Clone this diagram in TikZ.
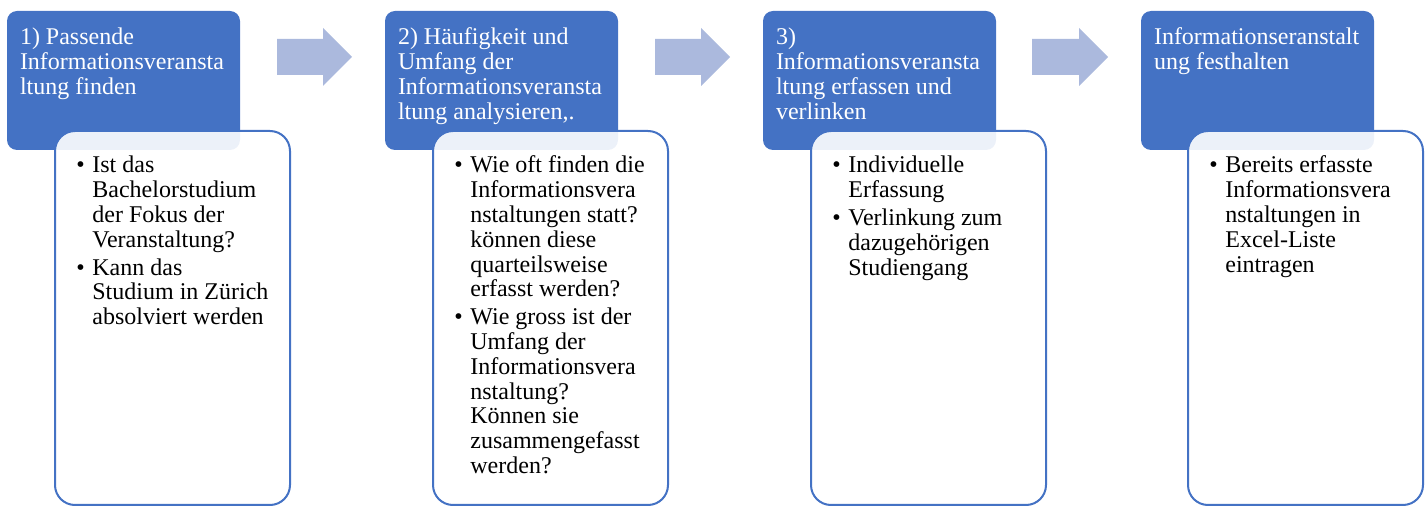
\documentclass[tikz,border=0pt]{standalone}
\usepackage{fontspec}
\setmainfont{Liberation Serif}
\usepackage{tikz}
\usetikzlibrary{positioning}
\definecolor{stepblue}{RGB}{68,114,196}
\definecolor{arrowblue}{RGB}{171,185,221}
\newcommand{\itembul}{\makebox[8pt][l]{\textbullet}}
\newcommand{\itemind}{\hspace*{8pt}}
\tikzset{
  stepbox/.style={ fill=stepblue, rounded corners=5pt, minimum width=116.5pt, minimum height=69.5pt, inner sep=0pt }
}
\tikzset{
  notebox/.style={ draw=stepblue, line width=1pt, fill=white, fill opacity=0.9, rounded corners=10pt, minimum width=117.5pt, minimum height=187pt, inner sep=0pt }
}
\tikzset{
  steptext/.style={ anchor=north west, inner sep=0pt, align=left, text=white, font=\fontsize{12pt}{12.4pt}\selectfont }
}
\tikzset{
  notetext/.style={ anchor=north west, inner sep=0pt, align=left, font=\fontsize{12pt}{12.4pt}\selectfont }
}
\tikzset{
  blockarrow/.style={ fill=arrowblue }
}

\begin{document}
\begin{tikzpicture}[x=0.5pt, y=-0.5pt]
      \useasboundingbox (0,0) rectangle (1426,513);

      % step 1
      \node[stepbox] (s1) at (123.5, 80.5) {};
      \node[steptext, below right=8.2pt and 6.5pt of s1.north west] (t1) {\strut 1) Passende\\Informationsveransta\\ltung finden};
      \node[notebox] (n1) at (172.5, 318) {};
      \node[notetext, below right=12.6pt and 11pt of n1.north west] (l1) {\strut\itembul Ist das\\\itemind Bachelorstudium\\\itemind der Fokus der\\\itemind Veranstaltung?\\[1.5pt]\itembul Kann das\\\itemind Studium in Zürich\\\itemind absolviert werden};

      \fill[blockarrow] (277,39) -- (323,39) -- (323,28) -- (352,57) -- (323,86) -- (323,75) -- (277,75) -- cycle;

      % step 2
      \node[stepbox] (s2) at (501.5, 80.5) {};
      \node[steptext, below right=8.2pt and 6.5pt of s2.north west] (t2) {\strut 2) Häufigkeit und\\Umfang der\\Informationsveransta\\ltung analysieren,.};
      \node[notebox] (n2) at (550.5, 318) {};
      \node[notetext, below right=12.6pt and 11pt of n2.north west] (l2) {\strut\itembul Wie oft finden die\\\itemind Informationsvera\\\itemind nstaltungen statt?\\\itemind können diese\\\itemind quarteilsweise\\\itemind erfasst werden?\\[1.5pt]\itembul Wie gross ist der\\\itemind Umfang der\\\itemind Informationsvera\\\itemind nstaltung?\\\itemind Können sie\\\itemind zusammengefasst\\\itemind werden?};

      \fill[blockarrow] (655,39) -- (701,39) -- (701,28) -- (730,57) -- (701,86) -- (701,75) -- (655,75) -- cycle;

      % step 3
      \node[stepbox] (s3) at (879.5, 80.5) {};
      \node[steptext, below right=8.2pt and 6.5pt of s3.north west] (t3) {\strut 3)\\Informationsveransta\\ltung erfassen und\\verlinken};
      \node[notebox] (n3) at (928.5, 318) {};
      \node[notetext, below right=12.6pt and 11pt of n3.north west] (l3) {\strut\itembul Individuelle\\\itemind Erfassung\\[1.5pt]\itembul Verlinkung zum\\\itemind dazugehörigen\\\itemind Studiengang};

      \fill[blockarrow] (1032,39) -- (1079,39) -- (1079,28) -- (1108,57) -- (1079,86) -- (1079,75) -- (1032,75) -- cycle;

      % step 4
      \node[stepbox] (s4) at (1257.5, 80.5) {};
      \node[steptext, below right=8.2pt and 6.5pt of s4.north west] (t4) {\strut Informationseranstalt\\ung festhalten};
      \node[notebox] (n4) at (1305.5, 318) {};
      \node[notetext, below right=12.6pt and 11pt of n4.north west] (l4) {\strut\itembul Bereits erfasste\\\itemind Informationsvera\\\itemind nstaltungen in\\\itemind Excel-Liste\\\itemind eintragen};

    \end{tikzpicture}
\end{document}
